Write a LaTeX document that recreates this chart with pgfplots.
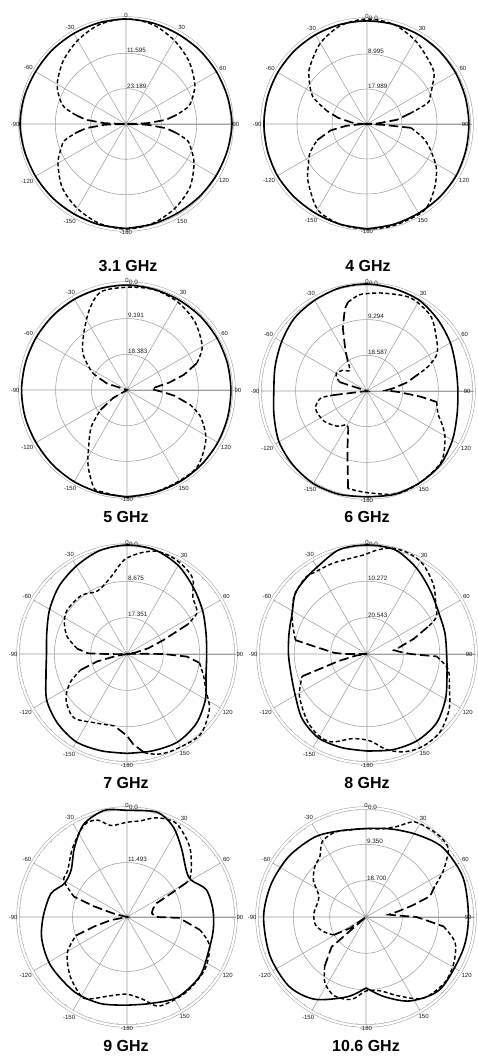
\documentclass[border=0pt]{standalone}
\usepackage{pgfplots}
\pgfplotsset{compat=1.18}
\usepgfplotslibrary{polar}
\usepackage{fontspec}
\setmainfont{Liberation Sans}

\tikzset{
 sol/.style={black, line width=1.6pt, smooth},
 sd/.style={black, line width=1.45pt, dash pattern=on 4pt off 2.6pt, smooth},
 ld/.style={black, line width=1.7pt, dash pattern=on 9.5pt off 4pt},
 rl/.style={font=\fontsize{6.3}{7}\selectfont, text=gray!20!black, anchor=south west, inner sep=0.4pt, xshift=0.6pt},
 rz/.style={rl, anchor=west, xshift=1pt, yshift=0.5pt},
 ttl/.style={font=\bfseries\fontsize{16}{16}\selectfont},
}
\pgfplotsset{
  myp/.style={
    scale only axis, anchor=center, clip=false, enlargelimits=false,
    xtick={0,30,...,330},
    xticklabels={90,60,30,0,-30,-60,-90,-120,-150,-180,150,120},
    yticklabels={},
    xmajorgrids, ymajorgrids,
    minor x tick num=5,
    major grid style={draw=gray!75, line width=0.55pt},
    axis line style={draw=gray!75, line width=0.5pt},
    x axis line style={double=white, double distance=2.2pt},
    tick style={draw=gray!75, line width=0.45pt},
    major tick length=3pt, minor tick length=2.5pt,
    tick align=outside,
    ytick style={draw=none},
    ticklabel style={font=\fontsize{6}{7}\selectfont, text=gray!20!black},
    every axis plot/.append style={no markers},
  },
  rcol/.style={xticklabels={{\makebox[0pt][r]{90\hspace{4pt}}},60,30,0,-30,-60,-90,-120,-150,-180,150,120}},
}
\newcommand{\pl}[2]{\addplot[#1] table[row sep=\\, x expr={90-(\thisrow{t})}, y expr={\thisrow{d}+\TT}] {t d\\ #2};}

\begin{document}
\begin{tikzpicture}
\useasboundingbox (0,0) rectangle (478pt,1059pt);

% ---------------- 3.1 GHz
\def\TT{34.78}
\begin{polaraxis}[myp, at={(126pt,935pt)}, width=212pt, height=212pt, ymin=0, ymax=34.78, ytick={11.59,23.19}]
\pl{sol}{-180 -0.5\\ -165 -0.6\\ -150 -0.7\\ -135 -0.6\\ -120 -0.5\\ -105 -0.3\\ -90 0\\ -75 -0.2\\ -60 -0.5\\ -45 -0.5\\ -30 -0.5\\ -15 -0.4\\ 0 -0.35\\ 15 -0.5\\ 30 -0.7\\ 45 -0.6\\ 60 -0.5\\ 75 -0.3\\ 90 0\\ 105 -0.4\\ 120 -0.7\\ 135 -0.9\\ 150 -1.0\\ 165 -0.8\\ 180 -0.5\\}
\pl{sd}{-80 -18.1\\ -75 -13.9\\ -70 -11.8\\ -60 -8.7\\ -45 -5.6\\ -30 -3.1\\ -15 -1.0\\ 0 -0.3\\ 15 -1.0\\ 30 -3.1\\ 45 -5.6\\ 60 -8.7\\ 70 -11.8\\ 75 -13.9\\ 80 -18.1\\}
\pl{ld}{80 -18.1\\ 84 -21.6\\ 88 -27.8\\ 90 -34.78\\ 92 -27.8\\ 96 -21.6\\ 100 -18.1\\}
\pl{sd}{100 -18.1\\ 105 -13.9\\ 110 -12.2\\ 120 -9.0\\ 135 -5.2\\ 150 -2.8\\ 165 -1.0\\ 180 -0.3\\ 195 -1.0\\ 210 -2.8\\ 225 -5.2\\ 240 -9.0\\ 250 -12.2\\ 255 -13.9\\ 260 -18.1\\}
\pl{ld}{260 -18.1\\ 264 -21.6\\ 268 -27.8\\ 270 -34.78\\ 272 -27.8\\ 276 -21.6\\ 280 -18.1\\}
\node[rl] at (axis cs:90,23.19) {11.595};
\node[rl] at (axis cs:90,11.59) {23.189};
\end{polaraxis}

% ---------------- 4 GHz
\def\TT{26.98}
\begin{polaraxis}[myp, rcol, at={(367pt,935pt)}, width=210pt, height=210pt, ymin=0, ymax=26.98, ytick={8.99,17.99}]
\pl{sol}{-180 0\\ -165 -0.3\\ -150 -0.5\\ -135 -0.5\\ -120 -0.4\\ -105 -0.5\\ -90 -0.5\\ -75 -0.5\\ -60 -0.5\\ -45 -0.5\\ -30 -0.5\\ -15 -0.5\\ 0 -0.5\\ 15 -0.5\\ 30 -0.5\\ 45 -0.6\\ 60 -0.7\\ 75 -0.8\\ 90 -0.8\\ 105 -0.7\\ 120 -0.5\\ 135 -0.5\\ 150 -0.5\\ 165 -0.3\\ 180 0\\}
\pl{sd}{-72 -16.2\\ -63 -11.3\\ -52 -8.1\\ -45 -6.2\\ -30 -3.0\\ -15 -0.8\\ 0 0\\ 15 -0.5\\ 30 -2.2\\ 45 -4.3\\ 53 -5.4\\ 60 -7.6\\ 66 -9.2\\ 71 -10.5\\ 76 -15.4\\}
\pl{ld}{76 -15.4\\ 82 -19.2\\ 87 -24.3\\ 90 -26.98\\ 93 -22.9\\ 95 -15.6\\}
\pl{sd}{95 -15.6\\ 104 -12.1\\ 112 -9.4\\ 123 -5.7\\ 135 -2.7\\ 147 -0.3\\ 165 0\\ 180 0\\ 195 -0.3\\ 210 -1.6\\ 226 -5.9\\ 235 -8.6\\ 243 -10.5\\ 252 -13.5\\}
\pl{ld}{252 -13.5\\ 260 -17.5\\ 265 -21.6\\ 268 -25.6\\ 270 -26.98\\ 272 -24.3\\ 276 -22.9\\ 282 -19.4\\ 288 -16.2\\}
\node[rl] at (axis cs:90,17.99) {8.995};
\node[rl] at (axis cs:90,8.99) {17.989};
\node[rz] at (axis cs:90,26.98) {0.0};
\end{polaraxis}

% ---------------- 5 GHz
\def\TT{27.57}
\begin{polaraxis}[myp, at={(127pt,669pt)}, width=214pt, height=214pt, ymin=0, ymax=27.57, ytick={9.19,18.38}]
\pl{sol}{-180 0\\ -165 -0.2\\ -150 -0.3\\ -135 -0.4\\ -120 -0.5\\ -105 -0.4\\ -90 -0.4\\ -75 -0.5\\ -60 -0.55\\ -45 -0.55\\ -30 -0.55\\ -15 -0.55\\ 0 -0.55\\ 15 -0.7\\ 30 -0.8\\ 45 -0.8\\ 60 -0.8\\ 75 -0.8\\ 90 -0.8\\ 105 -0.7\\ 120 -0.55\\ 135 -0.4\\ 150 -0.3\\ 165 -0.2\\ 180 0\\}
\pl{sd}{-65 -18.5\\ -61 -16.8\\ -50 -12.7\\ -37 -9.1\\ -25 -4.7\\ -15 -1.4\\ 0 -1.1\\ 15 -0.8\\ 30 -1.4\\ 45 -2.8\\ 60 -5.2\\ 69 -8.3\\}
\pl{ld}{69 -8.3\\ 75 -12.4\\ 80 -16.5\\ 84 -19.9\\ 87 -21.2\\ 90 -20.4\\ 93 -18.5\\ 97 -15.2\\ 103 -11.0\\}
\pl{sd}{103 -11.0\\ 110 -7.4\\ 122 -3.6\\ 137 -0.8\\ 150 -0.55\\ 165 -0.3\\ 180 0\\ 195 -0.55\\ 199 -1.1\\ 207 -5.5\\ 214 -9.9\\ 224 -14.3\\ 233 -19.0\\}
\pl{ld}{233 -19.0\\ 240 -23.4\\ 246 -27.57\\ 282 -27.57\\ 288 -22.1\\ 295 -18.5\\}
\node[rl] at (axis cs:90,18.38) {9.191};
\node[rl] at (axis cs:90,9.19) {18.383};
\node[rz] at (axis cs:90,27.57) {0.0};
\end{polaraxis}

% ---------------- 6 GHz
\def\TT{27.88}
\begin{polaraxis}[myp, rcol, at={(367pt,668pt)}, width=214pt, height=214pt, ymin=0, ymax=27.88, ytick={9.29,18.59}]
\pl{sol}{-180 -0.3\\ -165 0\\ -150 0\\ -135 -0.6\\ -120 -1.4\\ -105 -2.8\\ -90 -3.6\\ -75 -3.1\\ -60 -2.2\\ -45 -1.1\\ -30 -0.6\\ -15 -0.1\\ 0 0\\ 15 -0.3\\ 30 -0.6\\ 45 -1.7\\ 60 -2.8\\ 75 -3.9\\ 90 -4.2\\ 105 -3.6\\ 120 -2.2\\ 135 -0.8\\ 150 -0.3\\ 165 0\\ 180 -0.3\\}
\pl{sd}{-12 -4.2\\ -5 -2.8\\ 0 -2.5\\ 10 -2.0\\ 25 -1.1\\ 40 -2.2\\ 52 -5.0\\ 62 -7.2\\ 68 -10.6\\ 72 -13.9\\}
\pl{ld}{72 -13.9\\ 78 -17.3\\ 84 -20.9\\ 88 -22.9\\ 92 -19.5\\ 96 -13.9\\ 99 -9.5\\}
\pl{sd}{99 -9.5\\ 108 -8.4\\ 115 -6.1\\ 122 -3.9\\ 134 -1.1\\ 150 -0.3\\ 164 0\\ 180 -1.4\\ 191 -2.0\\}
\pl{ld}{191 -2.0\\ 193 -5.6\\ 196 -9.5\\ 200 -13.1\\ 206 -16.7\\}
\pl{sd}{206 -16.7\\ 211 -17.6\\ 220 -15.9\\ 235 -14.2\\ 251 -13.7\\ 261 -15.6\\ 263 -19.0\\}
\pl{ld}{263 -19.0\\ 267 -27.88\\ 285 -27.88\\ 288 -20.4\\}
\pl{sd}{288 -20.4\\ 294 -19.2\\ 300 -18.7\\ 310 -19.5\\ 320 -20.9\\ 327 -18.7\\}
\pl{ld}{327 -18.7\\ 332 -15.9\\ 339 -10.3\\ 345 -5.6\\ 348 -4.2\\}
\node[rl] at (axis cs:90,18.59) {9.294};
\node[rl] at (axis cs:90,9.29) {18.587};
\node[rz] at (axis cs:90,27.88) {0.0};
\end{polaraxis}

% ---------------- 7 GHz
\def\TT{26.03}
\begin{polaraxis}[myp, at={(127pt,405pt)}, width=218pt, height=218pt, ymin=0, ymax=26.03, ytick={8.68,17.35}]
\pl{sol}{-180 -2.3\\ -165 -2.1\\ -150 -1.8\\ -135 -2.6\\ -120 -3.9\\ -105 -6.0\\ -90 -6.8\\ -75 -6.2\\ -60 -4.7\\ -45 -3.1\\ -30 -1.8\\ -15 -0.5\\ 0 0\\ 15 -0.3\\ 30 -1.6\\ 45 -3.6\\ 60 -5.2\\ 75 -6.5\\ 90 -7.0\\ 105 -6.5\\ 120 -4.4\\ 135 -2.6\\ 150 -1.8\\ 165 -2.1\\ 180 -2.3\\}
\pl{sd}{-84 -14.1\\ -74 -11.2\\ -64 -9.4\\ -54 -8.3\\ -38 -8.3\\ -25 -9.4\\ -12 -7.3\\ -4 -4.4\\ 0 -3.1\\ 8 -1.6\\ 16 -0.5\\ 24 -0.5\\ 32 -1.0\\ 41 -2.1\\ 49 -5.2\\ 55 -6.0\\ 60 -6.8\\ 64 -9.9\\}
\pl{ld}{64 -9.9\\ 69 -16.7\\ 75 -20.8\\ 80 -23.9\\ 84 -26.03\\ 88 -23.4\\ 90 -17.4\\ 92.5 -11.7\\ 97 -8.6\\}
\pl{sd}{97 -8.6\\ 106 -7.0\\ 115 -5.2\\ 124 -2.3\\ 138 0\\ 154 -0.5\\ 163 -1.0\\ 170 -2.1\\}
\pl{ld}{170 -2.1\\ 176 -4.4\\ 180 -6.5\\ 190 -8.6\\}
\pl{sd}{190 -8.6\\ 206 -7.8\\ 220 -6.2\\ 233 -7.8\\ 243 -10.7\\ 251 -14.3\\}
\pl{ld}{251 -14.3\\ 256 -18.7\\ 260 -23.4\\ 265 -26.03\\ 269 -23.9\\ 270 -20.8\\ 271 -16.7\\ 276 -14.1\\}
\node[rl] at (axis cs:90,17.35) {8.675};
\node[rl] at (axis cs:90,8.68) {17.351};
\node[rz] at (axis cs:90,26.03) {0.0};
\end{polaraxis}

% ---------------- 8 GHz
\def\TT{30.81}
\begin{polaraxis}[myp, rcol, at={(367pt,405pt)}, width=218pt, height=218pt, ymin=0, ymax=30.81, ytick={10.27,20.54}]
\pl{sol}{-180 -3.4\\ -165 -3.4\\ -150 -3.4\\ -135 -4.9\\ -120 -7.4\\ -105 -8.6\\ -90 -8.6\\ -75 -8.0\\ -62 -6.8\\ -50 -4.3\\ -40 -3.4\\ -30 -2.5\\ -15 -0.3\\ 0 0\\ 15 -0.3\\ 30 -2.8\\ 45 -5.5\\ 60 -7.4\\ 75 -8.0\\ 90 -8.3\\ 105 -7.4\\ 120 -5.2\\ 135 -3.1\\ 150 -2.5\\ 165 -2.8\\ 180 -3.4\\}
\pl{sd}{-79 -10.2\\ -66 -7.7\\ -52 -4.6\\ -39 -3.1\\ -32 -3.4\\ -21 -3.4\\ -11 -3.4\\ -2 -2.8\\ 6 -1.2\\ 14 0\\ 23 0\\ 32 -0.9\\ 44 -3.7\\ 54 -6.8\\ 62 -8.6\\ 66 -12.0\\}
\pl{ld}{66 -12.0\\ 72 -16.9\\ 78 -21.3\\ 82 -23.1\\ 86 -21.6\\ 90 -18.5\\ 92 -11.1\\}
\pl{sd}{92 -11.1\\ 101 -7.4\\ 113 -5.5\\ 124 -2.8\\ 137 -0.6\\ 149 -0.3\\ 159 -1.2\\ 168 -3.1\\ 175 -5.5\\ 180 -6.5\\ 190 -6.5\\ 202 -4.0\\ 211 -4.0\\ 222 -5.5\\ 238 -8.3\\ 251 -11.4\\}
\pl{ld}{251 -11.4\\ 253 -18.2\\ 256 -22.5\\ 262 -27.7\\ 266 -30.81\\ 270 -24.6\\ 272 -21.6\\ 278 -16.0\\ 281 -10.2\\}
\node[rl] at (axis cs:90,20.54) {10.272};
\node[rl] at (axis cs:90,10.27) {20.543};
\node[rz] at (axis cs:90,30.81) {0.0};
\end{polaraxis}

% ---------------- 9 GHz
\def\TT{22.99}
\begin{polaraxis}[myp, at={(127pt,142pt)}, width=218pt, height=218pt, ymin=0, ymax=22.99, ytick={11.49}]
\pl{sol}{-180 -4.4\\ -163 -3.9\\ -145 -3.7\\ -123 -3.9\\ -105 -4.4\\ -90 -5.3\\ -73 -6.2\\ -62 -8.0\\ -50 -7.6\\ -37 -4.6\\ -25 -1.4\\ -12 0\\ 0 -0.5\\ 16 0\\ 27 -1.6\\ 38 -4.4\\ 52 -7.1\\ 60 -7.4\\ 71 -5.3\\ 85 -4.8\\ 98 -4.6\\ 111 -4.4\\ 129 -3.2\\ 148 -3.0\\ 165 -4.1\\ 180 -4.4\\}
\pl{sd}{-69 -11.0\\ -60 -7.6\\ -52 -7.1\\ -38 -4.4\\ -25 -1.6\\ -17 -1.6\\ -10 -3.4\\ 0 -3.0\\ 8 -2.5\\ 17 -1.1\\ 28 -0.7\\ 42 -3.2\\ 56 -6.7\\ 60 -8.5\\}
\pl{ld}{60 -8.5\\ 62 -12.6\\ 65 -16.1\\ 72 -17.2\\ 81 -17.7\\ 88 -17.2\\ 90 -16.8\\ 91 -12.0\\ 100 -7.4\\}
\pl{sd}{100 -7.4\\ 109 -4.6\\ 124 -3.2\\ 142 -2.8\\ 160 -3.0\\ 169 -5.3\\ 180 -6.7\\ 192 -6.0\\ 204 -4.1\\ 210 -3.7\\ 224 -5.7\\ 239 -8.3\\ 250 -11.5\\}
\pl{ld}{250 -11.5\\ 254 -15.9\\ 259 -19.5\\ 270 -22.99\\ 284 -20.2\\ 288 -15.6\\ 291 -11.0\\}
\node[rl] at (axis cs:90,11.49) {11.493};
\node[rz] at (axis cs:90,22.99) {0.0};
\end{polaraxis}

% ---------------- 10.6 GHz
\def\TT{28.05}
\begin{polaraxis}[myp, rcol, at={(366pt,142pt)}, width=218pt, height=218pt, ymin=0, ymax=28.05, ytick={9.35,18.70}]
\pl{sol}{-180 -9.8\\ -167 -7.0\\ -148 -3.1\\ -132 -1.4\\ -112 -1.4\\ -90 -1.7\\ -71 -2.2\\ -52 -2.8\\ -33 -3.6\\ -18 -4.8\\ 0 -5.3\\ 16 -4.5\\ 32 -3.1\\ 48 -1.4\\ 68 -1.1\\ 90 -1.7\\ 109 -1.7\\ 134 -1.4\\ 152 -3.6\\ 167 -7.0\\ 180 -9.8\\}
\pl{sd}{-119 -18.5\\ -109 -16.5\\ -99 -14.9\\ -86 -14.6\\ -67 -14.9\\ -55 -11.5\\ -44 -9.3\\ -38 -8.7\\ -30 -5.6\\ -20 -4.8\\ -10 -5.3\\ 0 -5.3\\ 10 -5.0\\ 19 -3.4\\ 27 -0.6\\ 38 0\\ 46 0\\ 51 -0.8\\ 59 -4.8\\ 66 -8.7\\}
\pl{ld}{66 -8.7\\ 72 -10.7\\ 76 -15.7\\ 80 -19.6\\ 84 -22.2\\ 87 -20.2\\ 90 -15.1\\ 93 -12.6\\ 97 -7.9\\}
\pl{sd}{97 -7.9\\ 106 -4.2\\ 118 -2.5\\ 130 -1.7\\ 145 -2.5\\ 158 -6.2\\ 169 -8.7\\ 180 -9.0\\ 190 -6.5\\ 202 -6.2\\ 212 -8.1\\ 220 -11.5\\}
\pl{ld}{220 -11.5\\ 229 -16.3\\ 232 -28.05\\ 235 -23.0\\ 241 -18.5\\}
\node[rl] at (axis cs:90,18.70) {9.350};
\node[rl] at (axis cs:90,9.35) {18.700};
\node[rz] at (axis cs:90,28.05) {0.0};
\end{polaraxis}

% titles
\node[ttl] at (128pt,793pt) {3.1 GHz};
\node[ttl] at (368pt,793pt) {4 GHz};
\node[ttl] at (126pt,542pt) {5 GHz};
\node[ttl] at (367pt,542pt) {6 GHz};
\node[ttl] at (126pt,276pt) {7 GHz};
\node[ttl] at (367pt,276pt) {8 GHz};
\node[ttl] at (126pt,13pt) {9 GHz};
\node[ttl] at (366pt,13pt) {10.6 GHz};
\end{tikzpicture}
\end{document}
